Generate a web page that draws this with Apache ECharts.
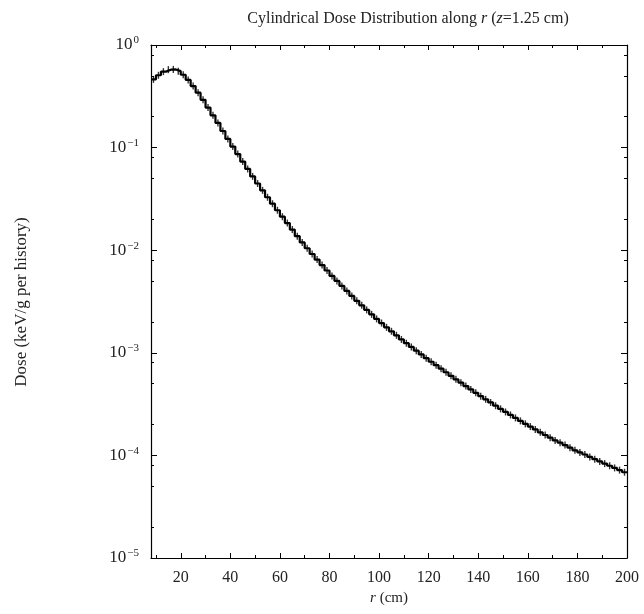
<!DOCTYPE html>
<html><head><meta charset="utf-8">
<script src="https://cdn.jsdelivr.net/npm/echarts@6/dist/echarts.min.js"></script>
<style>html,body{margin:0;padding:0;background:#fff}#c{width:644px;height:614px}</style>
</head><body><div id="c"></div>
<script>
// bin centres of r (cm), 2 cm bins from 8 to 200
const rCenters = [9,11,13,15,17,19,21,23,25,27,29,31,33,35,37,39,41,43,45,47,49,51,53,55,57,59,61,63,65,67,69,
  71,73,75,77,79,81,83,85,87,89,91,93,95,97,99,101,103,105,107,109,111,113,115,117,119,121,123,125,127,129,
  131,133,135,137,139,141,143,145,147,149,151,153,155,157,159,161,163,165,167,169,171,173,175,177,179,
  181,183,185,187,189,191,193,195,197,199];
// dose (keV/g per history)
const dose = [0.462,0.507,0.550,0.575,0.578,0.556,0.513,0.457,0.398,0.343,0.292,0.2455,0.2065,0.1738,0.1452,0.1216,
  0.1023,0.0865,0.0731,0.0619,0.0524,0.0447,0.0383,0.0328,0.0284,0.0245,0.0212,0.0184,0.0159,0.0137,0.0119,
  0.01045,0.00918,0.00811,0.00716,0.00634,0.00562,0.00502,0.00449,0.00401,0.00358,0.00321,0.00290,0.00262,0.00237,0.00214,
  0.00195,0.00177,0.00162,0.00148,0.00135,0.00124,0.00114,0.00105,0.000964,0.000887,0.000818,0.000757,0.000700,0.000646,0.000597,
  0.000552,0.000512,0.000474,0.000440,0.000407,0.000378,0.000352,0.000328,0.000305,0.000284,0.000265,0.000248,0.000232,0.000217,0.000203,
  0.000191,0.000179,0.000168,0.000158,0.000149,0.000140,0.000133,0.000126,0.000119,0.000112,
  0.000107,0.000102,0.0000966,0.0000918,0.0000873,0.0000832,0.0000793,0.0000755,0.0000719,0.0000685];
const xRange = [8, 200];
const yRange = [1e-5, 1];
const xMajorTicks = [20,40,60,80,100,120,140,160,180,200];
const xMinorTicks = [10,30,50,70,90,110,130,150,170,190];
const yMajorTicks = [1e-5,1e-4,1e-3,1e-2,1e-1,1];
const yMinorTicks = [2e-5,5e-5,8e-5,2e-4,5e-4,8e-4,2e-3,5e-3,8e-3,2e-2,5e-2,8e-2,2e-1,5e-1,8e-1];

const FONT = 'Liberation Serif';
const half = (rCenters[1] - rCenters[0]) / 2;
const stepData = rCenters.map((r, i) => [r - half, dose[i]]);
stepData.push([rCenters[rCenters.length - 1] + half, dose[dose.length - 1]]);

function xAxisDef(pos, ticks, len, showLine, showLabel) {
  return {
    type: 'value', position: pos, min: xRange[0], max: xRange[1],
    axisLine: { show: showLine, onZero: false, lineStyle: { color: '#000', width: 1.2 } },
    axisTick: { show: true, inside: true, length: len, customValues: ticks, lineStyle: { color: '#000', width: 1 } },
    axisLabel: { show: showLabel, customValues: ticks, color: '#222', fontFamily: FONT, fontSize: 16, margin: 12 },
    splitLine: { show: false }
  };
}
function yAxisDef(pos, ticks, len, showLine, showLabel) {
  return {
    type: 'log', logBase: 10, position: pos, min: yRange[0], max: yRange[1],
    axisLine: { show: showLine, onZero: false, lineStyle: { color: '#000', width: 1.2 } },
    axisTick: { show: true, inside: true, length: len, customValues: ticks, lineStyle: { color: '#000', width: 1 } },
    axisLabel: {
      show: showLabel, customValues: ticks, margin: 12,
      formatter: v => {
        const e = Math.round(Math.log10(v));
        return '{b|10}{s|' + (e < 0 ? '\u2212' + (-e) : e) + '}';
      },
      rich: {
        b: { fontFamily: FONT, fontSize: 17, color: '#222' },
        s: { fontFamily: FONT, fontSize: 11, color: '#222', padding: [0, 0, 9, 1] }
      }
    },
    splitLine: { show: false }
  };
}

const chart = echarts.init(document.getElementById('c'), null, { renderer: 'canvas' });
chart.setOption({
  backgroundColor: '#fff',
  animation: false,
  title: {
    text: 'Cylindrical Dose Distribution along {i|r} ({i|z}=1.25 cm)',
    left: 403, top: 6, textAlign: 'center',
    textStyle: {
      fontFamily: FONT, fontSize: 16, fontWeight: 'normal', color: '#222',
      rich: { i: { fontFamily: FONT, fontSize: 16, fontStyle: 'italic', color: '#222' } }
    }
  },
  grid: { left: 151, right: 17, top: 45, bottom: 56, containLabel: false },
  xAxis: [
    xAxisDef('bottom', xMajorTicks, 5, true, true),
    xAxisDef('top', xMajorTicks, 5, true, false),
    xAxisDef('bottom', xMinorTicks, 3, false, false),
    xAxisDef('top', xMinorTicks, 3, false, false)
  ],
  yAxis: [
    yAxisDef('left', yMajorTicks, 6, true, true),
    yAxisDef('right', yMajorTicks, 6, true, false),
    yAxisDef('left', yMinorTicks, 3, false, false),
    yAxisDef('right', yMinorTicks, 3, false, false)
  ],
  graphic: [
    { type: 'text', x: 389, y: 598, style: {
      text: '{i|r} (cm)', fill: '#222', align: 'center', verticalAlign: 'middle',
      rich: { i: { fontFamily: FONT, fontSize: 15, fontStyle: 'italic', fill: '#222' } },
      fontFamily: FONT, fontSize: 15 } },
    { type: 'text', x: 22, y: 302, rotation: Math.PI / 2, style: {
      text: 'Dose (keV/g per history)', fill: '#222', fontFamily: FONT, fontSize: 17,
      align: 'center', verticalAlign: 'middle' } }
  ],
  series: [
    {
      type: 'line', xAxisIndex: 0, yAxisIndex: 0, step: 'end', data: stepData,
      showSymbol: false, lineStyle: { color: '#000', width: 2.2 }, z: 3
    },
    {
      type: 'scatter', xAxisIndex: 0, yAxisIndex: 0,
      data: rCenters.map((r, i) => [r, dose[i]]),
      symbol: 'rect', symbolSize: [1.4, 7], itemStyle: { color: '#000' }, z: 4
    }
  ]
});
</script></body></html>
